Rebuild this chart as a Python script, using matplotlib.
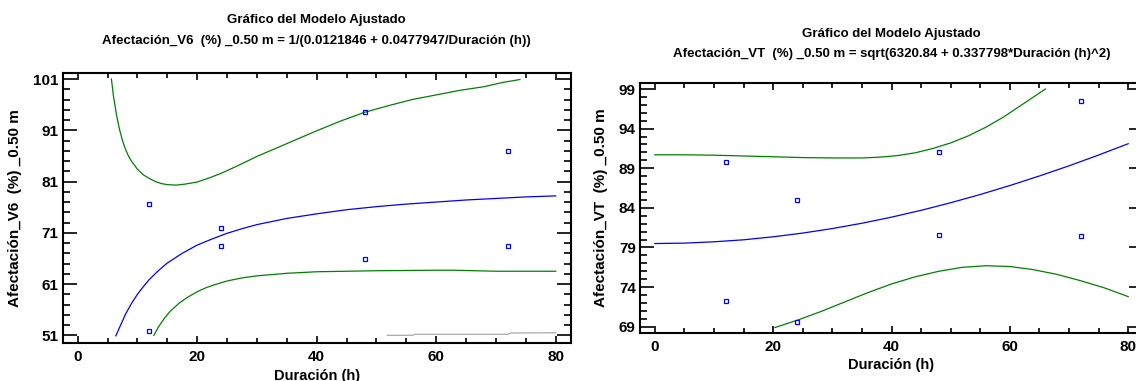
import matplotlib
matplotlib.use('Agg')
import matplotlib.pyplot as plt
from matplotlib.ticker import MultipleLocator
from matplotlib import font_manager

#################################################################################
## data

# left chart: Afectacion_V6
v6_obs_x = [12, 12, 24, 24, 48, 48, 72, 72]
v6_obs_y = [76.7, 51.9, 72.0, 68.4, 94.6, 65.8, 87.0, 68.4]

v6_fit_x = [6.4, 7, 8, 9, 10, 11, 12, 13.5, 15, 17.5, 20, 22.5, 25, 27.5, 30, 35,
            40, 45, 50, 55, 60, 65, 70, 75, 80]
v6_fit_y = [50.9, 52.5, 55.1, 57.2, 59.0, 60.5, 61.9, 63.6, 65.1, 67.0, 68.6,
            69.8, 70.9, 71.8, 72.6, 73.8, 74.7, 75.5, 76.1, 76.6, 77.0, 77.4,
            77.7, 78.0, 78.2]

v6_up_x = [5.65, 6.0, 6.5, 7.0, 7.5, 8.0, 8.5, 9.0, 10, 11, 12, 13, 14, 15, 16.5,
           18, 20, 22, 24, 27, 30, 35, 40, 44, 48, 52, 56, 60, 64, 68, 71, 74]
v6_up_y = [101.0, 97.6, 94.0, 91.2, 89.0, 87.3, 86.0, 85.0, 83.4, 82.3, 81.6,
           81.0, 80.6, 80.4, 80.3, 80.5, 80.9, 81.7, 82.6, 84.2, 85.9, 88.4,
           90.9, 92.8, 94.5, 95.8, 97.0, 97.9, 98.8, 99.5, 100.3, 100.9]

v6_lo_x = [12.75, 13.5, 14.5, 15.5, 17, 18.5, 20, 21.5, 23, 25, 27.5, 30, 35, 40,
           50, 60, 63, 70, 80]
v6_lo_y = [51.0, 52.6, 54.3, 55.7, 57.3, 58.5, 59.5, 60.3, 60.9, 61.6, 62.2,
           62.6, 63.1, 63.4, 63.6, 63.7, 63.7, 63.5, 63.5]

v6_gray_x = [51.8, 56, 56.5, 72, 72.5, 80]
v6_gray_y = [51.0, 51.0, 51.2, 51.2, 51.45, 51.5]

# right chart: Afectacion_VT
vt_obs_x = [12, 12, 24, 24, 48, 48, 72, 72]
vt_obs_y = [89.8, 72.2, 85.0, 69.6, 91.1, 80.6, 97.5, 80.4]

vt_fit_x = [0, 5, 10, 15, 20, 25, 30, 35, 40, 45, 50, 55, 60, 65, 70, 75, 80]
vt_fit_y = [79.50, 79.55, 79.72, 79.97, 80.35, 80.82, 81.39, 82.06, 82.83,
            83.69, 84.65, 85.69, 86.82, 88.03, 89.31, 90.67, 92.10]

vt_up_x = [0, 5, 10, 15, 20, 25, 30, 35, 38, 41, 44, 47, 50, 53, 56, 59, 62,
           64, 66]
vt_up_y = [90.7, 90.7, 90.65, 90.55, 90.45, 90.35, 90.3, 90.3, 90.4, 90.6,
           90.95, 91.5, 92.2, 93.1, 94.2, 95.5, 97.0, 98.0, 99.0]

vt_lo_x = [20.3, 24, 28, 32, 36, 40, 44, 48, 52, 56, 60, 64, 68, 72, 76, 80]
vt_lo_y = [68.9, 69.8, 70.9, 72.1, 73.3, 74.4, 75.3, 76.0, 76.5, 76.7, 76.6,
           76.2, 75.6, 74.8, 73.9, 72.8]

title_1 = 'Gráfico del Modelo Ajustado'
title_v6 = 'Afectación_V6  (%) _0.50 m = 1/(0.0121846 + 0.0477947/Duración (h))'
title_vt = 'Afectación_VT  (%) _0.50 m = sqrt(6320.84 + 0.337798*Duración (h)^2)'
ylabel_v6 = 'Afectación_V6  (%) _0.50 m'
ylabel_vt = 'Afectación_VT  (%) _0.50 m'
xlabel = 'Duración (h)'

#################################################################################
## styling

names = set(f.name for f in font_manager.fontManager.ttflist)
fam = ['Liberation Sans Narrow', 'Liberation Sans', 'DejaVu Sans']
fam = [f for f in fam if f in names] + ['DejaVu Sans']
plt.rcParams['font.family'] = fam
plt.rcParams['font.weight'] = 'bold'

blue = '#0000ff'
green = '#008000'
gray = '#aaaaaa'

W, H = 1136, 381
fig = plt.figure(figsize=(W/100, H/100), dpi=100)


def px_axes(x0, x1, ytop, ybot):
    return fig.add_axes([x0/W, 1 - ybot/H, (x1 - x0)/W, (ybot - ytop)/H])


def style(ax, ylim, ymaj, ymin):
    ax.set_xlim(-2.5, 82.5)
    ax.set_ylim(*ylim)
    ax.xaxis.set_major_locator(MultipleLocator(20))
    ax.xaxis.set_minor_locator(MultipleLocator(5))
    ax.yaxis.set_major_locator(MultipleLocator(ymaj))
    ax.yaxis.set_minor_locator(MultipleLocator(ymin))
    ax.tick_params(axis='both', which='both', direction='in', top=True, right=True,
                   labelsize=11, width=1.2)
    ax.tick_params(axis='x', which='major', length=5, pad=5)
    ax.tick_params(axis='x', which='minor', length=3.5)
    ax.tick_params(axis='y', which='major', length=10, pad=3)
    ax.tick_params(axis='y', which='minor', length=5)
    for s in ax.spines.values():
        s.set_linewidth(1.5)
    for lab in ax.get_xticklabels() + ax.get_yticklabels():
        lab.set_fontweight('bold')


#################################################################################
## left chart

ax1 = px_axes(62.7, 570.7, 72.7, 342.7)
ax1.plot(v6_fit_x, v6_fit_y, color=blue, lw=0.9)
ax1.plot(v6_up_x, v6_up_y, color=green, lw=0.9)
ax1.plot(v6_lo_x, v6_lo_y, color=green, lw=0.9)
ax1.plot(v6_gray_x, v6_gray_y, color=gray, lw=0.9)
ax1.plot(v6_obs_x, v6_obs_y, 's', ms=3.2, mfc='none', mec=blue, mew=0.9)
style(ax1, (49.56, 102.23), 10, 2)
ax1.set_yticks([51, 61, 71, 81, 91, 101])
ax1.yaxis.set_minor_locator(MultipleLocator(2, offset=1))
ax1.set_ylabel(ylabel_v6, fontsize=11, fontweight='bold', labelpad=8)
ax1.set_xlabel(xlabel, fontsize=10.5, fontweight='bold', labelpad=4)
ax1.set_title(title_1 + '\n' + title_v6, fontsize=9.5, fontweight='bold',
              pad=20.5, linespacing=2.05)

#################################################################################
## right chart

ax2 = px_axes(640, 1143, 82.7, 333.3)
ax2.plot(vt_fit_x, vt_fit_y, color=blue, lw=0.9)
ax2.plot(vt_up_x, vt_up_y, color=green, lw=0.9)
ax2.plot(vt_lo_x, vt_lo_y, color=green, lw=0.9)
ax2.plot(vt_obs_x, vt_obs_y, 's', ms=3.2, mfc='none', mec=blue, mew=0.9)
style(ax2, (68.17, 99.8), 5, 1)
ax2.set_yticks([69, 74, 79, 84, 89, 94, 99])
ax2.set_ylabel(ylabel_vt, fontsize=11, fontweight='bold', labelpad=8)
ax2.set_xlabel(xlabel, fontsize=10.5, fontweight='bold', labelpad=3)
ax2.set_title(title_1 + '\n' + title_vt, fontsize=9.5, fontweight='bold',
              pad=18.5, linespacing=1.9)

fig.savefig('out.png', dpi=100)
